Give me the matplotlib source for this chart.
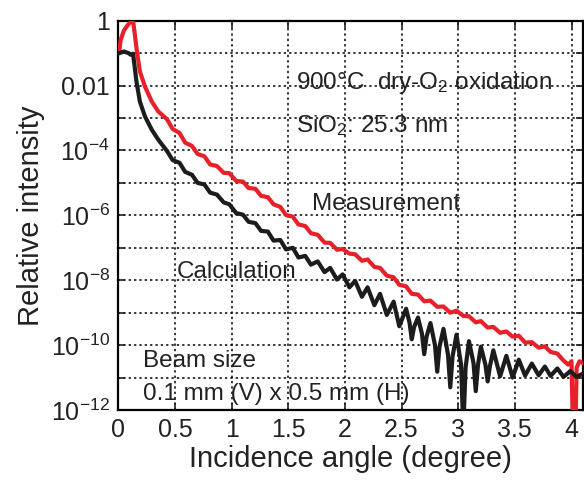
"""
X-ray reflectivity of a thermal SiO2 film: measurement vs. calculation
"""
import matplotlib
matplotlib.use('Agg')
import matplotlib.pyplot as plt
from matplotlib.ticker import FixedLocator, FixedFormatter
import numpy as np

plt.rcParams['font.family'] = ['Liberation Sans', 'DejaVu Sans']
plt.rcParams['mathtext.fontset'] = 'custom'
plt.rcParams['mathtext.rm'] = 'Liberation Sans'
plt.rcParams['mathtext.it'] = 'Liberation Sans:italic'

# Calculation (black): incidence angle (degree) and log10(relative intensity)
calc_angle = [0.01, 0.05, 0.09, 0.11, 0.13, 0.14, 0.16, 0.19, 0.235, 0.295, 0.353,
              0.43, 0.48, 0.54, 0.59, 0.65, 0.70, 0.76, 0.81, 0.87, 0.93, 0.98,
              1.04, 1.10, 1.15, 1.21, 1.26, 1.32, 1.37, 1.43, 1.48, 1.54, 1.59,
              1.65, 1.70, 1.76, 1.82, 1.87, 1.93, 1.98, 2.04, 2.09, 2.15, 2.20,
              2.26, 2.31, 2.37, 2.43, 2.48, 2.54, 2.57, 2.59, 2.61, 2.645,
              2.68, 2.70, 2.72, 2.755, 2.795, 2.815, 2.835, 2.87, 2.91, 2.93,
              2.95, 2.985, 3.025, 3.045, 3.065, 3.095, 3.135, 3.155, 3.175,
              3.20, 3.24, 3.26, 3.28, 3.31, 3.37, 3.425, 3.48, 3.535, 3.59,
              3.65, 3.71, 3.765, 3.815, 3.875, 3.93, 3.99, 4.045, 4.10]
calc_log = [-1.00, -0.95, -1.00, -1.05, -1.02, -1.30, -1.87, -2.49, -2.95, -3.36, -3.67,
            -4.02, -4.30, -4.38, -4.66, -4.75, -5.00, -5.05, -5.30, -5.36, -5.60, -5.66,
            -5.93, -5.98, -6.20, -6.24, -6.48, -6.50, -6.78, -6.76, -7.05, -7.00, -7.30,
            -7.25, -7.52, -7.42, -7.75, -7.62, -7.98, -7.82, -8.22, -8.02, -8.51, -8.22,
            -8.77, -8.42, -9.07, -8.66, -9.42, -8.88, -9.30, -9.82, -9.45, -9.15,
            -9.65, -10.28, -9.75, -9.32, -10.00, -10.82, -10.05, -9.50, -10.30, -11.30,
            -10.35, -9.68, -10.60, -12.60, -10.70, -9.88, -10.55, -11.42, -10.60,
            -10.05, -10.60, -11.12, -10.65, -10.16, -10.96, -10.33, -11.00, -10.45, -10.94,
            -10.57, -10.93, -10.66, -10.95, -10.72, -10.98, -10.80, -10.98, -10.88]

# Measurement (red)
meas_angle = [0.01, 0.02, 0.05, 0.08, 0.11, 0.13, 0.145, 0.16, 0.19, 0.235, 0.295,
              0.353, 0.43, 0.48, 0.54, 0.59, 0.65, 0.70, 0.76, 0.81, 0.87, 0.93,
              0.98, 1.04, 1.10, 1.15, 1.21, 1.26, 1.32, 1.37, 1.43, 1.48, 1.54,
              1.59, 1.65, 1.70, 1.76, 1.82, 1.87, 1.93, 1.98, 2.04, 2.09, 2.15,
              2.20, 2.26, 2.31, 2.37, 2.43, 2.48, 2.54, 2.59, 2.645, 2.70, 2.755,
              2.815, 2.87, 2.93, 2.985, 3.045, 3.095, 3.155, 3.20, 3.26, 3.31,
              3.37, 3.425, 3.48, 3.535, 3.59, 3.65, 3.71, 3.765, 3.815, 3.875,
              3.93, 3.97, 4.00, 4.012, 4.035, 4.045, 4.07, 4.10]
meas_log = [-0.90, -0.60, -0.30, -0.15, -0.03, 0.00, -0.40, -0.84, -1.56, -2.03, -2.49,
            -2.80, -3.04, -3.34, -3.46, -3.76, -3.86, -4.11, -4.18, -4.43, -4.48, -4.69,
            -4.70, -4.94, -4.96, -5.16, -5.18, -5.40, -5.44, -5.66, -5.74, -5.99, -6.04,
            -6.28, -6.33, -6.55, -6.60, -6.84, -6.85, -7.06, -7.04, -7.18, -7.20, -7.40,
            -7.36, -7.59, -7.62, -7.86, -7.91, -8.14, -8.19, -8.42, -8.44, -8.65, -8.63,
            -8.82, -8.81, -9.00, -8.94, -9.10, -9.11, -9.30, -9.26, -9.46, -9.44,
            -9.62, -9.58, -9.74, -9.71, -9.92, -9.91, -10.08, -10.04, -10.21, -10.26,
            -10.48, -10.60, -10.50, -12.60, -12.60, -10.70, -10.50, -10.55]

fig = plt.figure(figsize=(5.84, 4.82), dpi=100)
ax = fig.add_axes([0.2026, 0.1494, 0.7954, 0.8077])

ax.plot(meas_angle, np.power(10.0, meas_log), color='#e8202a', lw=3.0, zorder=3)
ax.plot(calc_angle, np.power(10.0, calc_log), color='#1c1c1c', lw=3.0, zorder=4)

ax.set_yscale('log')
ax.set_xlim(0, 4.1)
ax.set_ylim(1e-12, 1)

# 刻度：x 每0.5，y 每个数量级画网格，隔一个标注
ax.xaxis.set_major_locator(FixedLocator(np.arange(0, 4.01, 0.5)))
ax.set_xticklabels(['0', '0.5', '1', '1.5', '2', '2.5', '3', '3.5', '4'])
y_ticks = [10.0 ** k for k in range(-12, 1)]
y_labels = []
for k in range(-12, 1):
    if k % 2:
        y_labels.append('')
    elif k == 0:
        y_labels.append('1')
    elif k == -2:
        y_labels.append('0.01')
    else:
        y_labels.append('$10^{%d}$' % k)
ax.yaxis.set_major_locator(FixedLocator(y_ticks))
ax.yaxis.set_major_formatter(FixedFormatter(y_labels))
ax.yaxis.set_minor_locator(FixedLocator([]))

ax.tick_params(direction='in', length=5, width=1.2, top=True, right=True,
               labelsize=18, colors='#222222', pad=6)
ax.grid(True, color='black', linestyle=(0, (1.5, 2)), linewidth=1.1)
for sp in ax.spines.values():
    sp.set_linewidth(1.6)

ax.set_xlabel('Incidence angle (degree)', fontsize=21, color='#222222', labelpad=2)
ax.set_ylabel('Relative intensity', fontsize=21, color='#222222', labelpad=4)

# 注释文字
txt = dict(fontsize=17.5, color='#222222', va='center', ha='left')
ax.text(1.57, 10 ** -1.93, '900°C  dry-O$_2$ oxidation', **txt)
ax.text(1.57, 10 ** -3.22, 'SiO$_2$: 25.3 nm', **txt)
ax.text(1.71, 10 ** -5.65, 'Measurement', **txt)
ax.text(0.52, 10 ** -7.75, 'Calculation', **txt)
ax.text(0.22, 10 ** -10.5, 'Beam size', **txt)
ax.text(0.22, 10 ** -11.5, '0.1 mm (V) x 0.5 mm (H)', **txt)

plt.savefig('out.png', dpi=100)
